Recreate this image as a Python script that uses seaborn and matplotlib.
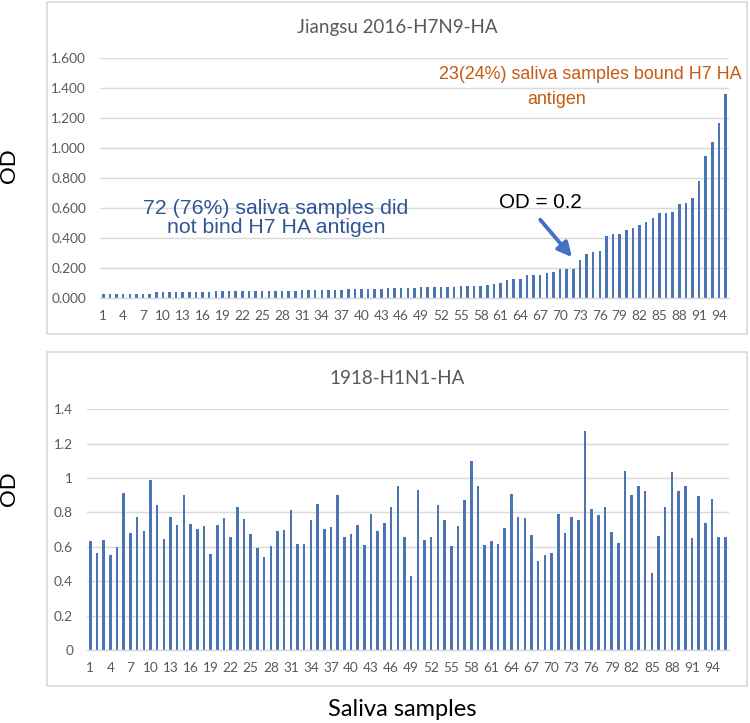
import numpy as np
import pandas as pd
import seaborn as sns
import matplotlib.pyplot as plt
from matplotlib.patches import Rectangle

# ---------------- data ----------------
h7_samples = list(range(1, 96))
h7_od = [0.025, 0.025, 0.025, 0.025, 0.025, 0.025, 0.025, 0.025,
         0.035, 0.035, 0.035, 0.035, 0.035, 0.035, 0.035, 0.035, 0.035,
         0.045, 0.045, 0.045, 0.045, 0.045, 0.045, 0.045, 0.045, 0.045,
         0.045, 0.045, 0.045, 0.045,
         0.053, 0.053, 0.053, 0.053, 0.053, 0.053, 0.053,
         0.058, 0.058, 0.058, 0.058, 0.058, 0.058,
         0.064, 0.064, 0.064, 0.064, 0.064,
         0.072, 0.072, 0.072, 0.072, 0.072, 0.072,
         0.080, 0.080, 0.080, 0.080,
         0.085, 0.092, 0.100, 0.118, 0.122, 0.124,
         0.150, 0.151, 0.153, 0.162, 0.171, 0.190, 0.191, 0.192,
         0.251, 0.291, 0.302, 0.313, 0.411, 0.422, 0.423, 0.451,
         0.462, 0.482, 0.504, 0.531, 0.562, 0.563, 0.573, 0.624,
         0.633, 0.663, 0.775, 0.944, 1.036, 1.167, 1.358]

h1_samples = list(range(1, 97))
h1_od = [0.635, 0.563, 0.641, 0.550, 0.600, 0.911, 0.682, 0.775, 0.693, 0.988,
         0.843, 0.647, 0.773, 0.728, 0.899, 0.734, 0.701, 0.722, 0.557, 0.726,
         0.767, 0.656, 0.831, 0.763, 0.674, 0.596, 0.542, 0.604, 0.691, 0.699,
         0.812, 0.615, 0.615, 0.757, 0.849, 0.703, 0.713, 0.903, 0.656, 0.674,
         0.728, 0.610, 0.792, 0.693, 0.736, 0.831, 0.955, 0.660, 0.433, 0.928,
         0.637, 0.658, 0.843, 0.757, 0.606, 0.720, 0.872, 1.097, 0.951, 0.612,
         0.635, 0.614, 0.711, 0.908, 0.775, 0.767, 0.670, 0.515, 0.551, 0.567,
         0.790, 0.683, 0.775, 0.755, 1.272, 0.821, 0.786, 0.833, 0.689, 0.621,
         1.043, 0.901, 0.953, 0.926, 0.447, 0.664, 0.831, 1.037, 0.926, 0.953,
         0.652, 0.895, 0.740, 0.878, 0.656, 0.658]

h7_yticks = [0.0, 0.2, 0.4, 0.6, 0.8, 1.0, 1.2, 1.4, 1.6]
h7_yticklabels = ["0.000", "0.200", "0.400", "0.600", "0.800",
                  "1.000", "1.200", "1.400", "1.600"]
h1_yticks = [0.0, 0.2, 0.4, 0.6, 0.8, 1.0, 1.2, 1.4]
h1_yticklabels = ["0", "0.2", "0.4", "0.6", "0.8", "1", "1.2", "1.4"]

title_top = "Jiangsu 2016-H7N9-HA"
title_bottom = "1918-H1N1-HA"
note_neg = "72 (76%) saliva samples did\nnot bind H7 HA antigen"
note_pos1 = "23(24%) saliva samples bound H7 HA"
note_pos2 = "antigen"
note_cut = "OD = 0.2"

# ---------------- style ----------------
sns.set_theme(style="white")
plt.rcParams['font.family'] = ['Lato', 'DejaVu Sans']

BAR = "#4A74B4"
GRID = "#D9D9D9"
TICK = "#595959"
W, H = 750, 723

fig = plt.figure(figsize=(7.5, 7.23), dpi=100)

# panel boxes (figure pixels -> fraction)
def box(x0, y0, x1, y1):
    fig.add_artist(Rectangle((x0 / W, 1 - y1 / H), (x1 - x0) / W, (y1 - y0) / H,
                             transform=fig.transFigure, fill=False,
                             ec=GRID, lw=1.2))

box(46.5, 1.5, 747, 334)
box(46.5, 351.5, 747, 686)

def axes_px(left, right, top, bottom):
    return fig.add_axes([left / W, 1 - bottom / H, (right - left) / W, (bottom - top) / H])

ax1 = axes_px(100.0, 728.9, 57.7, 297.7)
ax2 = axes_px(86.95, 728.7, 409.3, 650.0)

def style(ax, samples, values, yticks, yticklabels, ymax):
    df = pd.DataFrame({"sample": samples, "od": values})
    sns.barplot(data=df, x="sample", y="od", color=BAR, saturation=1,
                width=0.38, linewidth=0, ax=ax)
    ax.set_xlim(-0.5, len(samples) - 0.5)
    ax.set_ylim(0, ymax)
    pos = list(range(0, len(samples), 3))
    ax.set_xticks(pos)
    ax.set_xticklabels([str(samples[p]) for p in pos])
    ax.set_yticks(yticks)
    ax.set_yticklabels(yticklabels)
    ax.tick_params(axis='both', length=0, labelsize=9.8, colors=TICK)
    ax.tick_params(axis='x', pad=9)
    ax.tick_params(axis='y', pad=10)
    ax.yaxis.grid(True, color=GRID, lw=1)
    ax.set_axisbelow(True)
    for s in ["top", "right", "left"]:
        ax.spines[s].set_visible(False)
    ax.spines["bottom"].set_color(GRID)
    ax.spines["bottom"].set_linewidth(1)
    ax.set_xlabel("")
    ax.set_ylabel("")
    ax.patch.set_alpha(0)

style(ax1, h7_samples, h7_od, h7_yticks, h7_yticklabels, 1.6)
style(ax2, h1_samples, h1_od, h1_yticks, h1_yticklabels, 1.4)

# titles
fig.text(397 / W, 1 - 27 / H, title_top, ha='center', va='center',
         fontsize=13.5, color=TICK)
fig.text(397 / W, 1 - 378 / H, title_bottom, ha='center', va='center',
         fontsize=13.5, color=TICK)

# axis labels
fig.text(9 / W, 1 - 166 / H, "OD", rotation=90, ha='center', va='center',
         fontsize=16, color='black')
fig.text(9 / W, 1 - 489 / H, "OD", rotation=90, ha='center', va='center',
         fontsize=16, color='black')
fig.text(402 / W, 1 - 709 / H, "Saliva samples", ha='center', va='center',
         fontsize=17, color='black')

# annotations (top panel, in data coordinates of sample index)
arial = ['Liberation Sans', 'DejaVu Sans']
ax1.text(26.1, 0.53, note_neg, ha='center', va='center', fontsize=15.3,
         color="#2F5597", family=arial, linespacing=1.0)
ax1.text(73.5, 1.485, note_pos1, ha='center', va='center', fontsize=12.9,
         color="#C55A11", family=arial)
ax1.text(68.5, 1.318, note_pos2, ha='center', va='center', fontsize=12.9,
         color="#C55A11", family=arial)
ax1.text(66.0, 0.633, note_cut, ha='center', va='center', fontsize=14.8,
         color='black', family=arial)
ax1.annotate("", xy=(70.8, 0.27), xytext=(66.0, 0.52),
             arrowprops=dict(arrowstyle="-|>,head_length=0.7,head_width=0.35",
                             color="#4472C4", lw=2.8, shrinkA=0, shrinkB=0))

fig.savefig("out.png", dpi=100)
